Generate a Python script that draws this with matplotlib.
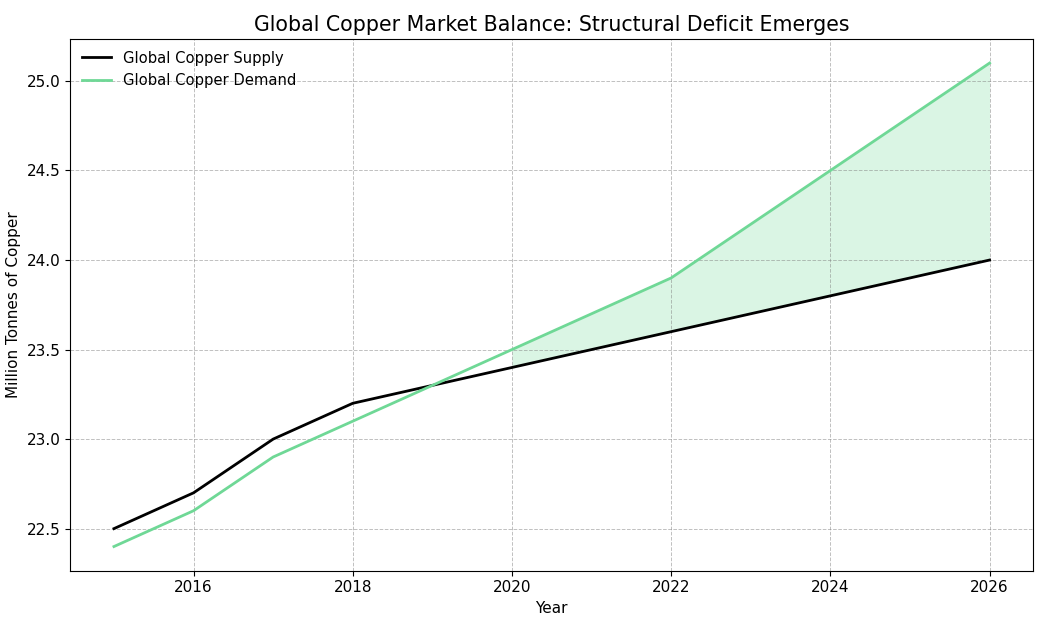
import numpy as np
import matplotlib
matplotlib.use("Agg")
import matplotlib.pyplot as plt

years = [2015, 2016, 2017, 2018, 2020, 2022, 2024, 2026]
supply = [22.5, 22.7, 23.0, 23.2, 23.4, 23.6, 23.8, 24.0]
demand = [22.4, 22.6, 22.9, 23.1, 23.5, 23.9, 24.5, 25.1]

green = '#6fd896'

fig, ax = plt.subplots(figsize=(10.47, 6.17), dpi=100)
ax.plot(years, supply, color='black', linewidth=2, label='Global Copper Supply')
ax.plot(years, demand, color=green, linewidth=2, label='Global Copper Demand')

s = np.array(supply)
d = np.array(demand)
ax.fill_between(years, s, d, where=d > s, color=green, alpha=0.25, linewidth=0)

ax.set_title('Global Copper Market Balance: Structural Deficit Emerges', fontsize=14.8)
ax.set_xlabel('Year', fontsize=11)
ax.set_ylabel('Million Tonnes of Copper', fontsize=11)
ax.set_xticks([2016, 2018, 2020, 2022, 2024, 2026])
ax.tick_params(labelsize=11)
ax.grid(True, linestyle='--', color='gray', alpha=0.5, linewidth=0.7)
ax.legend(loc='upper left', frameon=False, fontsize=10.6, borderaxespad=0.4)

plt.subplots_adjust(left=0.067, right=0.987, top=0.937, bottom=0.075)
plt.savefig('out.png', dpi=100)
